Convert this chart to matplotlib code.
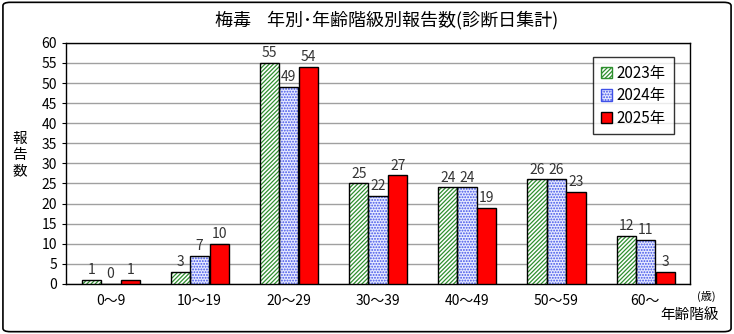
import numpy as np
import matplotlib.pyplot as plt
from matplotlib.patches import FancyBboxPatch, Patch

plt.rcParams['font.family'] = ['Noto Sans CJK JP', 'DejaVu Sans']
plt.rcParams['hatch.linewidth'] = 0.9

age_groups = ['0～9', '10～19', '20～29', '30～39', '40～49', '50～59', '60～']
years = ['2023年', '2024年', '2025年']
cases_2023 = [1, 3, 55, 25, 24, 26, 12]
cases_2024 = [0, 7, 49, 22, 24, 26, 11]
cases_2025 = [1, 10, 54, 27, 19, 23, 3]

fig = plt.figure(figsize=(7.34, 3.34), dpi=100)
ax = fig.add_axes([0.0899, 0.150, 0.850, 0.7216])

x = np.arange(len(age_groups))
w = 0.215
offs = [-0.215, 0.0, 0.222]

# 2023: green diagonal hatch
ax.bar(x + offs[0], cases_2023, w, facecolor='white', edgecolor='#2e8f2e',
       hatch='////////', linewidth=0, zorder=3)
ax.bar(x + offs[0], cases_2023, w, fill=False, edgecolor='black', linewidth=1, zorder=4)
# 2024: blue dots
ax.bar(x + offs[1], cases_2024, w, facecolor='#e6eaff', edgecolor='#3f50e8',
       hatch='......', linewidth=0, zorder=3)
ax.bar(x + offs[1], cases_2024, w, fill=False, edgecolor='black', linewidth=1, zorder=4)
# 2025: solid red
ax.bar(x + offs[2], cases_2025, w, facecolor='#ff0000', edgecolor='black', linewidth=1, zorder=4)

for vals, o in zip([cases_2023, cases_2024, cases_2025], offs):
    for xi, v in zip(x, vals):
        ax.annotate(str(v), (xi + o, v), xytext=(0, 2), textcoords='offset points',
                    ha='center', va='bottom', fontsize=10, color='#333333')

ax.set_xlim(-0.5, len(age_groups) - 0.5)
ax.set_ylim(0, 60)
ax.set_yticks(range(0, 61, 5))
ax.set_xticks(x)
ax.set_xticklabels(age_groups, fontsize=10)
ax.tick_params(axis='y', labelsize=10, length=3)
ax.tick_params(axis='x', length=0, pad=7)
ax.grid(axis='y', color='#a0a0a0', linewidth=1, zorder=0)
for s in ax.spines.values():
    s.set_color('black')
    s.set_linewidth(1)

handles = [Patch(facecolor='white', edgecolor='#2e8f2e', hatch='////////'),
           Patch(facecolor='#e6eaff', edgecolor='#3f50e8', hatch='......'),
           Patch(facecolor='#ff0000', edgecolor='black')]
leg = ax.legend(handles, years, loc='upper right', bbox_to_anchor=(0.986, 0.972),
                fontsize=11, frameon=True, fancybox=False, handlelength=0.75,
                handleheight=0.75, handletextpad=0.3, labelspacing=0.35,
                borderpad=0.5)
leg.get_frame().set_edgecolor('black')
leg.get_frame().set_linewidth(1)

fig.text(0.527, 0.94, '梅毒    年別･年齢階級別報告数(診断日集計)', ha='center', va='center', fontsize=13)
fig.text(0.027, 0.535, '報\n告\n数', ha='center', va='center', fontsize=10.5, linespacing=1.2)
fig.text(0.962, 0.113, '(歳)', ha='center', va='center', fontsize=8)
fig.text(0.939, 0.057, '年齢階級', ha='center', va='center', fontsize=10.5)

border = FancyBboxPatch((0.004, 0.007), 0.992, 0.986, boxstyle='round,pad=0,rounding_size=0.01',
                        transform=fig.transFigure, fill=False, edgecolor='black', linewidth=1.2)
fig.patches.append(border)

fig.savefig('out.png', dpi=100)
